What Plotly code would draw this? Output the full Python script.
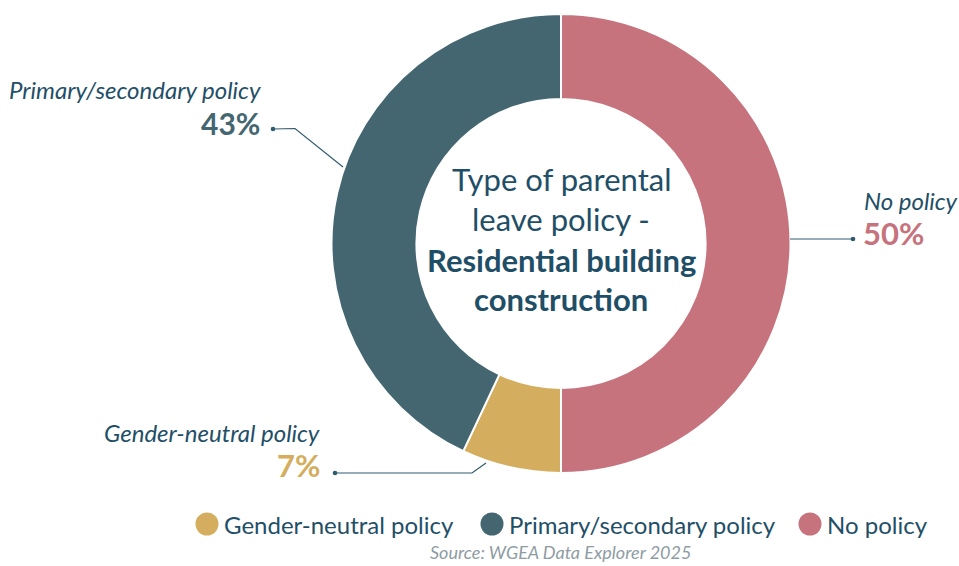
import plotly.graph_objects as go

# Share of employers by type of parental leave policy (clockwise from 12 o'clock)
categories = ["No policy", "Gender-neutral policy", "Primary/secondary policy"]
values = [50, 7, 43]
colors = ["#C6737D", "#D4AE5E", "#436670"]

legend_order = ["Gender-neutral policy", "Primary/secondary policy", "No policy"]

W, H = 959, 566
TEXT = "#1F4F67"
LINE = "#2F5B6E"
FONT = "Lato"

# Donut geometry in pixels
cx, cy, R = 561, 243.5, 229.5

fig = go.Figure()

fig.add_trace(go.Pie(
    labels=categories,
    values=values,
    marker=dict(colors=colors, line=dict(color="white", width=2)),
    hole=0.63,
    sort=False,
    direction="clockwise",
    rotation=0,
    textinfo="none",
    hoverinfo="label+percent",
    showlegend=False,
    domain=dict(x=[(cx - R) / W, (cx + R) / W],
                y=[1 - (cy + R) / H, 1 - (cy - R) / H]),
))

pct = dict(zip(categories, values))
col = dict(zip(categories, colors))

annotations = []


def add_text(x, y, text, size, color, xanchor="center", italic=False, bold=False):
    if bold:
        text = f"<b>{text}</b>"
    if italic:
        text = f"<i>{text}</i>"
    annotations.append(dict(
        x=x, y=y, xref="x", yref="y", text=text, showarrow=False,
        xanchor=xanchor, yanchor="middle",
        font=dict(family=FONT, size=size, color=color),
    ))


# Centre title
add_text(cx, 179, "Type of parental", 31, TEXT)
add_text(cx, 219, "leave policy -", 31, TEXT)
add_text(cx, 260, "Residential building", 31, TEXT, bold=True)
add_text(cx, 299, "construction", 31, TEXT, bold=True)

# Slice labels: italic category name above a large bold percentage
add_text(263, 89, "Primary/secondary policy", 24, TEXT, xanchor="right", italic=True)
add_text(262, 123, f"{pct['Primary/secondary policy']}%", 30, col["Primary/secondary policy"],
         xanchor="right", bold=True)

add_text(862, 200, "No policy", 24, TEXT, xanchor="left", italic=True)
add_text(861, 233, f"{pct['No policy']}%", 31, col["No policy"], xanchor="left", bold=True)

add_text(322, 432, "Gender-neutral policy", 24, TEXT, xanchor="right", italic=True)
add_text(322, 465, f"{pct['Gender-neutral policy']}%", 31, col["Gender-neutral policy"],
         xanchor="right", bold=True)

# Leader lines with end dots
leaders = [
    [(273, 129), (295, 128.5), (343, 167)],
    [(853, 239), (790, 239)],
    [(335, 473), (472, 473), (486, 463)],
]
shapes = []
for pts in leaders:
    path = "M " + " L ".join(f"{x},{y}" for x, y in pts)
    shapes.append(dict(type="path", path=path, xref="x", yref="y",
                       line=dict(color=LINE, width=1.2)))
    dx, dy = pts[0]
    shapes.append(dict(type="circle", xref="x", yref="y",
                       x0=dx - 2.3, x1=dx + 2.3, y0=dy - 2.3, y1=dy + 2.3,
                       fillcolor=LINE, line=dict(width=0)))

# Legend row
legend_x = {"Gender-neutral policy": 207, "Primary/secondary policy": 492, "No policy": 810}
ly = 524
for name in legend_order:
    x0 = legend_x[name]
    shapes.append(dict(type="circle", xref="x", yref="y",
                       x0=x0 - 11.5, x1=x0 + 11.5, y0=ly - 11.5, y1=ly + 11.5,
                       fillcolor=col[name], line=dict(width=0)))
    add_text(x0 + 15, ly, name, 24, TEXT, xanchor="left")

# Source line
add_text(560, 552, "Source: WGEA Data Explorer 2025", 18, "#8E9CA3", italic=True)

fig.update_layout(
    width=W, height=H,
    margin=dict(l=0, r=0, t=0, b=0),
    paper_bgcolor="white", plot_bgcolor="rgba(0,0,0,0)",
    xaxis=dict(range=[0, W], visible=False, domain=[0, 1], fixedrange=True),
    yaxis=dict(range=[H, 0], visible=False, domain=[0, 1], fixedrange=True),
    annotations=annotations,
    shapes=shapes,
    showlegend=False,
)

fig.write_html("out.html")
